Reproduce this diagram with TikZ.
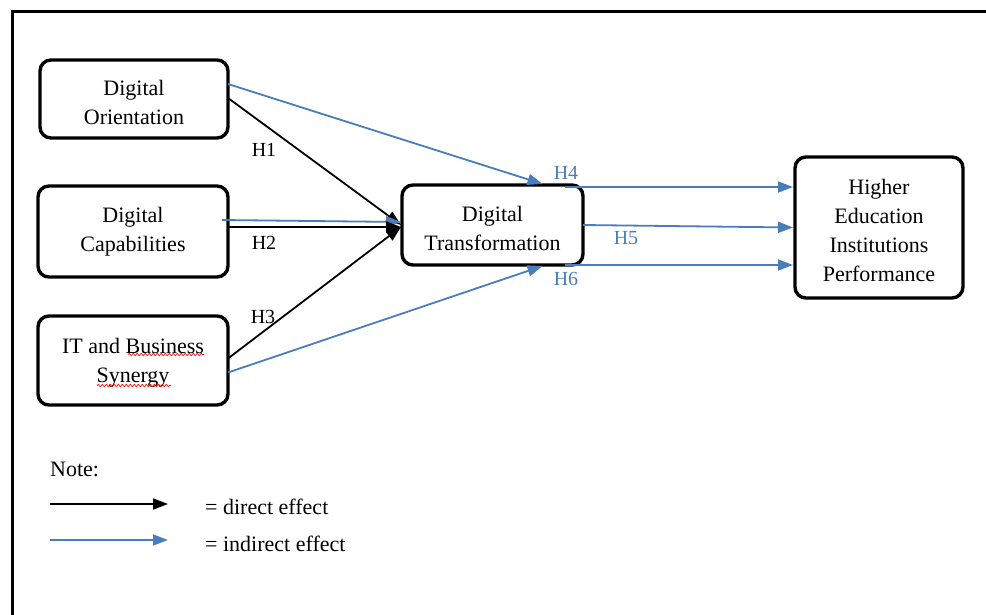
\documentclass[tikz,border=0pt]{standalone}
\usepackage{fontspec}
\setmainfont{Liberation Serif}
\usetikzlibrary{arrows.meta,calc,decorations.pathmorphing}
\definecolor{lnblue}{RGB}{74,126,187}
\newcommand\firstup[1]{\rule{0pt}{#1}}
\begin{document}
\begin{tikzpicture}[x=1pt,y=-1pt,
 box/.style={draw,line width=3.4pt,rounded corners=11pt,align=center,font=\fontsize{22}{29}\selectfont,inner sep=0pt,outer sep=0pt},
 dir/.style={draw=black,line width=1.8pt,-{Triangle[length=15pt,width=11pt]}},
 ind/.style={draw=lnblue,line width=1.8pt,-{Triangle[length=15pt,width=11pt]}},
 lab/.style={font=\fontsize{20}{24}\selectfont,inner sep=0pt},
 blab/.style={lab,text=lnblue},
 txt/.style={font=\fontsize{22}{26}\selectfont,inner sep=0pt},
 wavy/.style={draw=red,line width=0.7pt,decorate,decoration={snake,amplitude=1.1pt,segment length=4pt}}
]
\useasboundingbox (0,0) rectangle (986,615);
\draw[line width=3pt] (986,12) -- (12,12) -- (12,615);

\node[box,minimum width=188pt,minimum height=78pt] (do) at (134,99) {\firstup{23pt}Digital\\Orientation};
\node[box,minimum width=190pt,minimum height=91pt] (dc) at (133,231.5) {Digital\\Capabilities};
\node[box,minimum width=190pt,minimum height=89pt] (it) at (133,360.5) {\firstup{19pt}IT and Business\\Synergy};
\node[box,minimum width=181pt,minimum height=80pt] (dt) at (492.5,225) {\firstup{23pt}Digital\\Transformation};
\node[box,minimum width=168pt,minimum height=141pt] (he) at (879,227.5) {\firstup{21pt}Higher\\Education\\Institutions\\Performance};

\draw[wavy] ([shift={(-5,-6)}]it.center) -- ([shift={(71,-6)}]it.center);
\draw[wavy] ([shift={(-36,25)}]it.center) -- ([shift={(38,25)}]it.center);

\draw[ind] ([yshift=15]do.east) -- ([xshift=50,yshift=1]dt.north);
\draw[dir] ([yshift=1]do.east) -- ([xshift=-1]dt.west);
\draw[ind] ([xshift=-6,yshift=11.5]dc.east) -- ([xshift=-1,yshift=3]dt.west);
\draw[dir] ([yshift=4.5]dc.east) -- ([xshift=-1,yshift=-2]dt.west);
\draw[dir] ([yshift=2]it.east) -- ([xshift=-1,yshift=-2]dt.west);
\draw[ind] ([yshift=-12]it.east) -- ([xshift=50,yshift=-1]dt.south);

\draw[ind] ([xshift=-18,yshift=-2]dt.north east) -- ([xshift=-2,yshift=40.5]he.west);
\draw[ind] (dt.east) -- ([xshift=-2]he.west);
\draw[ind] ([xshift=-18]dt.south east) -- ([xshift=-2,yshift=-37.5]he.west);

\node[lab] (h1) at (264,150) {H1};
\node[lab] (h2) at (264,243) {H2};
\node[lab] (h3) at (263,317) {H3};
\node[blab] (h4) at (566,173) {H4};
\node[blab] (h5) at (626,238) {H5};
\node[blab] (h6) at (566,279) {H6};

\node[txt,anchor=west] (note) at (50,469) {Note:};
\coordinate (l1a) at (50,504);
\coordinate (l1b) at (168,504);
\coordinate (l2a) at (50,540);
\coordinate (l2b) at (168,540);
\draw[dir] (l1a) -- (l1b);
\draw[ind] (l2a) -- (l2b);
\node[txt,anchor=west] (t1) at (205,507) {= direct effect};
\node[txt,anchor=west] (t2) at (205,544) {= indirect effect};
\end{tikzpicture}
\end{document}
